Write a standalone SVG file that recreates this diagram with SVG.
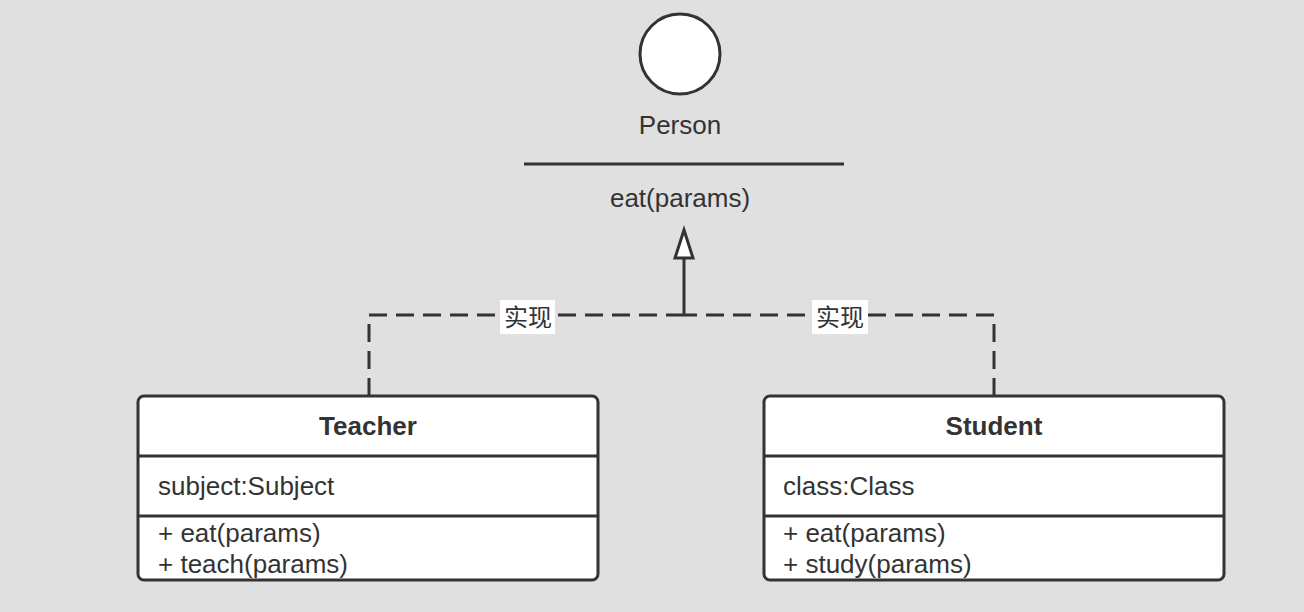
<svg xmlns="http://www.w3.org/2000/svg" width="1304" height="612" viewBox="0 0 1304 612">
<style>
.t{font-family:"Liberation Sans","Noto Sans CJK SC",sans-serif;font-size:26px;fill:#333}
.b{font-weight:bold;text-anchor:middle}
.c{text-anchor:middle}
.box{fill:#fff;stroke:#333;stroke-width:3}
.div{stroke:#333;stroke-width:3}
.dash{fill:none;stroke:#333;stroke-width:3;stroke-dasharray:18 9}
.lbl{font-family:"Noto Sans CJK SC",sans-serif;font-size:24px;fill:#333;text-anchor:middle}
</style>
<defs>
<clipPath id="ct"><rect x="139" y="397" width="458" height="181"/></clipPath>
<clipPath id="cs"><rect x="765" y="397" width="458" height="181"/></clipPath>
</defs>
<rect width="1304" height="612" fill="#e0e0e0"/>
<g id="person">
<circle cx="680" cy="54" r="40" fill="#fff" stroke="#333" stroke-width="3"/>
<text class="t c" x="680" y="134">Person</text>
<line class="div" x1="524" y1="164" x2="844" y2="164"/>
<text class="t c" x="680" y="207">eat(params)</text>
</g>
<g id="connectors">
<polyline class="dash" points="369,396 369,315 684,315"/>
<polyline class="dash" points="994,396 994,315 684,315"/>
<line x1="684" y1="315" x2="684" y2="258" stroke="#333" stroke-width="3"/>
<polygon points="684,230 675,258 693,258" fill="#fff" stroke="#333" stroke-width="3" stroke-linejoin="miter"/>
<rect x="500" y="300" width="55" height="34" fill="#fff"/>
<text class="lbl" x="528" y="326">实现</text>
<rect x="812" y="300" width="56" height="34" fill="#fff"/>
<text class="lbl" x="840" y="326">实现</text>
</g>
<g id="teacher">
<rect class="box" x="138" y="396" width="460" height="184" rx="6"/>
<line class="div" x1="138" y1="456" x2="598" y2="456"/>
<line class="div" x1="138" y1="516" x2="598" y2="516"/>
<text class="t b" x="368" y="435">Teacher</text>
<g clip-path="url(#ct)">
<text class="t" x="158" y="495">subject:Subject</text>
<text class="t" x="158" y="542">+ eat(params)</text>
<text class="t" x="158" y="573">+ teach(params)</text>
</g>
</g>
<g id="student">
<rect class="box" x="764" y="396" width="460" height="184" rx="6"/>
<line class="div" x1="764" y1="456" x2="1224" y2="456"/>
<line class="div" x1="764" y1="516" x2="1224" y2="516"/>
<text class="t b" x="994" y="435">Student</text>
<g clip-path="url(#cs)">
<text class="t" x="783" y="495">class:Class</text>
<text class="t" x="783" y="542">+ eat(params)</text>
<text class="t" x="783" y="573">+ study(params)</text>
</g>
</g>
</svg>
